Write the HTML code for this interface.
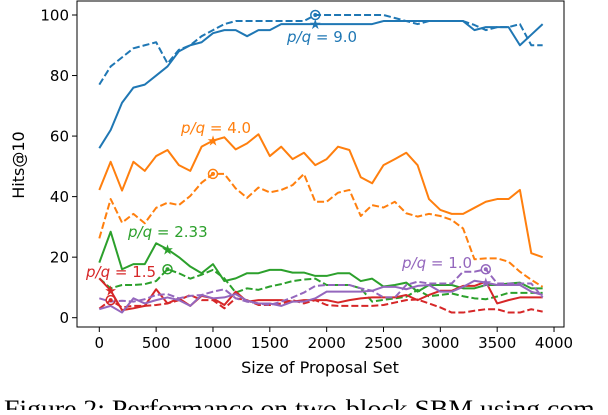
<!DOCTYPE html>
<html><head><meta charset="utf-8"><style>
body{margin:0;background:#fff;width:608px;height:410px;overflow:hidden}
svg text{font-family:"DejaVu Sans","Liberation Sans",sans-serif}
</style></head><body>
<svg id="chart" width="608" height="410" xmlns="http://www.w3.org/2000/svg"></svg>
<script>
const xs = Array.from({length:40},(_,i)=>i*100);
const blueSolid=[56,62,71,76,77,80,83,88,90,91,94,95,95,93,95,95,97,97,97,97,97,97,97,97,97,98,98,98,98,98,98,98,98,95,96,96,96,90,93.5,97];
const blueDash=[77,83,86,89,90,91,84,88.5,90,93,95,97,98,98,98,98,98,98,98,100,100,100,100,100,100,100,99,98,97,98,98,98,98,96.7,95,96,96,97,90,90];
const orangeSolid=[42.2,51.5,42,51.5,48.5,53.4,55.4,50.4,48.5,56.5,58.5,59.6,55.6,57.6,60.6,53.4,56.5,52.4,54.5,50.4,52.4,56.5,55.4,46.4,44.4,50.4,52.4,54.5,50.4,39.2,35.6,34.3,34.3,36.3,38.3,39.2,39.2,42.2,21.3,20];
const orangeDash=[26.2,39.2,31.4,34.3,31.2,36.3,38,37.2,40.2,44.6,47.5,47.5,42.7,39.6,43,41.4,42.2,43.8,47.5,38.3,38.3,41.3,42.2,33.6,37.2,36.4,38.3,34.5,33.4,34.3,33.6,32.3,29.5,19.3,19.6,19.6,18.5,15.2,12.5,10.2];
const greenSolid=[18.2,28.4,16,17.7,17.7,24.6,22.6,20,16.9,14.7,17.7,12.1,13,14.7,14.7,15.8,15.8,14.9,14.9,13.8,13.8,14.7,14.7,12.1,12.9,10.3,10.8,11.6,8.6,10.8,10.8,10.8,9.7,9.7,10.8,10.8,11.3,11.6,9.7,9.7];
const greenDash=[13,9.7,10.8,10.8,11.1,12.1,16,14.7,12.9,14.2,15.8,13,8.3,9.7,9.2,10.3,11.1,12.1,12.6,12.9,10.8,10.8,10.8,9.7,5.3,5.9,6.4,6.9,9.2,7.1,7.5,8,7.1,6.4,6.1,7,8.2,8.2,8.2,8.2];
const redSolid=[13,9,2.5,3.1,3.9,9.4,4.7,6.4,3.9,7.2,6.4,4.2,8.6,5.3,5.8,5.8,5.8,5.3,5.8,5.8,5.8,5,5.8,6.4,6.7,6.7,6.7,7.5,5.8,7.5,8.9,8.9,10.5,10.5,11.9,4.7,5.8,6.7,6.7,6.7];
const redDash=[3,5.8,3.4,3.9,3.9,4.2,4.7,5.8,7.5,5.8,5.8,3.1,6.4,5.8,4.2,4.2,4.7,5.8,4.7,5.8,4.2,3.9,3.9,3.9,3.9,4.2,5,5.8,6,4.7,3.4,1.7,1.7,2.3,2.8,2.8,1.7,1.7,2.8,2];
const purpleSolid=[2.8,3.9,1.7,6.4,4.7,5.8,6.7,5.8,3.9,7.5,6.4,6.7,7.8,5.6,4.7,4.7,3.9,5.3,5.3,6.4,8.6,8.6,8.6,8.6,8.9,10.2,10.2,9.4,10.5,10.8,8.6,8.6,10.2,12.2,11.6,10.8,10.8,10.8,8.6,7.5];
const purpleDash=[6.4,5.3,5.6,5.3,6.1,7.5,7.8,6.4,7.2,7.5,8.6,9.4,6.4,5.3,4.7,4.2,5.3,6.7,8.3,10.5,10.8,10.8,10.8,9.7,8.9,6.7,6.7,10.8,11.9,11.3,11.3,11.3,15.2,15.2,16,11.3,11.3,11.3,11.3,6.7];
const xTicks=[0,500,1000,1500,2000,2500,3000,3500,4000];
const yTicks=[0,20,40,60,80,100];
const NS="http://www.w3.org/2000/svg";
const svg=document.getElementById('chart');
const X=v=>99.3+v*0.11368, Y=v=>317.7-v*3.027;
function el(t,a,p){const e=document.createElementNS(NS,t);for(const k in a)e.setAttribute(k,a[k]);(p||svg).appendChild(e);return e;}
const frame=el('rect',{x:77,y:1,width:487,height:326,fill:'none',stroke:'#000','stroke-width':1});


xTicks.forEach(v=>{
  const l=el('line',{x1:X(v),x2:X(v),y1:327,y2:332,stroke:'#000'});
  
  
  const t=el('text',{x:X(v),y:348,'font-size':15,'text-anchor':'middle'});t.textContent=v;
  
  
});
yTicks.forEach(v=>{
  const l=el('line',{x1:72,x2:77,y1:Y(v),y2:Y(v),stroke:'#000'});
  
  
  const t=el('text',{x:69,y:Y(v)+5.5,'font-size':15,'text-anchor':'end'});t.textContent=v;
  
  
});
const series=[
 [blueSolid,'#1f77b4',false,'blue-solid'],[blueDash,'#1f77b4',true,'blue-dashed'],
 [orangeSolid,'#ff7f0e',false,'orange-solid'],[orangeDash,'#ff7f0e',true,'orange-dashed'],
 [greenSolid,'#2ca02c',false,'green-solid'],[greenDash,'#2ca02c',true,'green-dashed'],
 [redSolid,'#d62728',false,'red-solid'],[redDash,'#d62728',true,'red-dashed'],
 [purpleSolid,'#9467bd',false,'purple-solid'],[purpleDash,'#9467bd',true,'purple-dashed']];
series.forEach(([d,c,dash,n])=>{
  const p=el('polyline',{points:d.map((v,i)=>X(xs[i])+','+Y(v)).join(' '),fill:'none',stroke:c,'stroke-width':2,'stroke-linejoin':'round'});
  if(dash)p.setAttribute('stroke-dasharray','7,3');
  
  
});
const markIdx=[[blueSolid,blueDash,19,'#1f77b4'],[orangeSolid,orangeDash,10,'#ff7f0e'],[greenSolid,greenDash,6,'#2ca02c'],[redSolid,redDash,1,'#d62728'],[purpleSolid,purpleDash,34,'#9467bd']];
markIdx.forEach(([s,d,i,c])=>{
  const st=el('text',{x:X(xs[i]),y:Y(s[i])+5,'font-size':14,'text-anchor':'middle',fill:c});st.textContent='★';
  
  
  const ci=el('circle',{cx:X(xs[i]),cy:Y(d[i]),r:4.5,fill:'none',stroke:c,'stroke-width':1.5});
  
  
  el('circle',{cx:X(xs[i]),cy:Y(d[i]),r:2,fill:c});
});
[['p/q','= 9.0',287,42,'#1f77b4'],['p/q','= 4.0',181,133,'#ff7f0e'],['p/q','= 2.33',128,237,'#2ca02c'],['p/q','= 1.5',86,277,'#d62728'],['p/q','= 1.0',402,268,'#9467bd']].forEach(([a,b,x,y,c])=>{
  const t=el('text',{x:x,y:y,'font-size':15,fill:c});
  const s1=el('tspan',{'font-style':'italic'},t);s1.textContent=a;
  const s2=el('tspan',{},t);s2.textContent=' '+b;
  
  
});
const xl=el('text',{x:320,y:373,'font-size':16,'text-anchor':'middle'});xl.textContent='Size of Proposal Set';


const yl=el('text',{x:0,y:0,'font-size':16,'text-anchor':'middle',transform:'translate(24,165) rotate(-90)'});yl.textContent='Hits@10';


const cap=el('text',{x:4,y:417,'font-size':25,textLength:600,lengthAdjust:'spacingAndGlyphs',style:'font-family:"Liberation Serif",serif'});cap.textContent='Figure 2: Performance on two-block SBM using com-';


</script>
</body></html>
